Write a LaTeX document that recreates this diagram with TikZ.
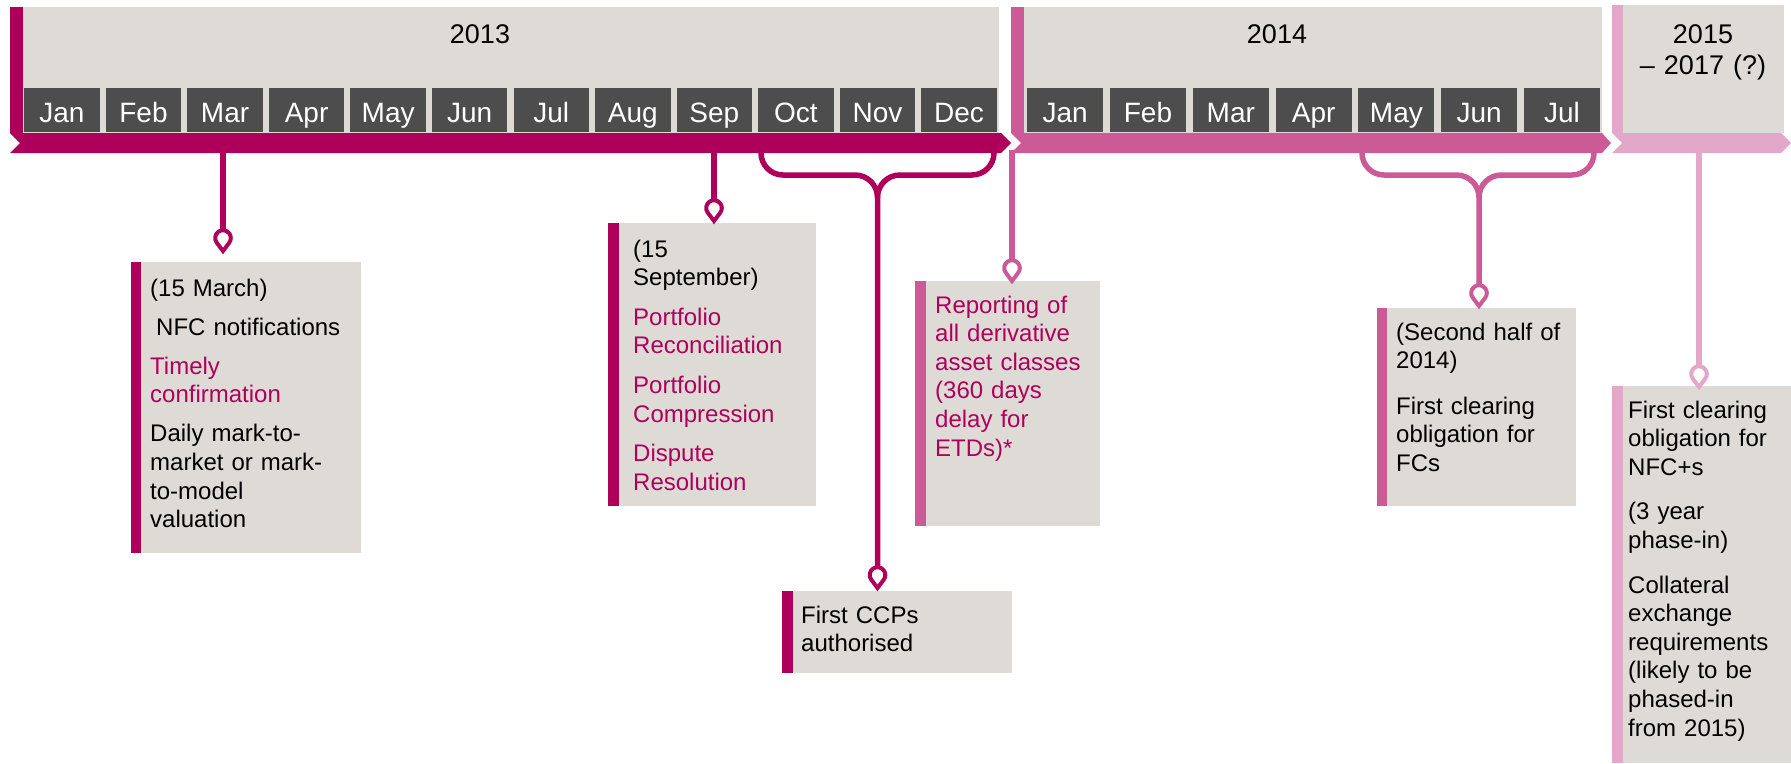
\documentclass[tikz,border=0pt]{standalone}
\usepackage{fontspec}
\setmainfont{Liberation Sans}
\definecolor{mag}{RGB}{174,0,90}
\definecolor{pnk}{RGB}{203,90,150}
\definecolor{lpk}{RGB}{227,168,201}
\definecolor{lgray}{RGB}{222,219,214}
\definecolor{dgray}{RGB}{77,77,77}
\newcommand{\pgap}[1][10.5pt]{\par\vspace{#1}}
\begin{document}
\begin{tikzpicture}[x=1pt,y=-1pt,
  month/.style={fill=dgray,text=white,inner sep=0pt,anchor=north west,minimum width=75.5pt,minimum height=44pt,text height=24pt,text depth=0pt,font=\fontsize{28}{32}\selectfont},
  yr/.style={font=\fontsize{27}{31}\selectfont,inner sep=0pt,anchor=base,text width=200pt,align=center},
  box/.style={fill=lgray,inner sep=0pt,anchor=north west},
  txt/.style={inner sep=0pt,anchor=base west,align=left,font=\fontsize{24}{28.6}\selectfont},
  conn/.style={line width=5.5pt},
  pin/.pic={\draw[line width=4pt,fill=white,pic actions] (0,13) -- (143.1:7.8) arc[start angle=143.1,end angle=396.9,radius=7.8] -- cycle;}
]
\useasboundingbox (0,0) rectangle (1791,763);
\fill[white] (0,0) rectangle (1791,763);

% headers
\fill[lgray] (23,7) rectangle (999,133);
\fill[lgray] (1024,7) rectangle (1602,133);
\fill[lgray] (1623,5) rectangle (1784,133);
\fill[mag] (10,7) rectangle (23,133);
\fill[pnk] (1011,7) rectangle (1024,133);
\fill[lpk] (1612,5) rectangle (1623,133);

\node[yr] (y13) at (480,43) {2013};
\node[yr] (y14) at (1277,43) {2014};
\node[yr,text width=160pt] (y15) at (1703,43) {2015\\– 2017 (?)};

\foreach \m [count=\i from 0] in {Jan,Feb,Mar,Apr,May,Jun,Jul,Aug,Sep,Oct,Nov,Dec}
  \node[month] (a\i) at ({24+81.55*\i},88) {\m};
\foreach \m [count=\i from 0] in {Jan,Feb,Mar,Apr,May,Jun,Jul}
  \node[month,minimum width=76pt] (b\i) at ({1027+82.8*\i},88) {\m};

% bands
\fill[mag] (10,133) -- (1001,133) -- (1011,143) -- (1001,153) -- (10,153) -- (20,143) -- cycle;
\fill[pnk] (1011,133) -- (1602,133) -- (1611,143) -- (1602,153) -- (1011,153) -- (1021,143) -- cycle;
\fill[lpk] (1612,133) -- (1781,133) -- (1791,143) -- (1781,153) -- (1612,153) -- (1622,143) -- cycle;

% boxes
\node[box,minimum width=230pt,minimum height=291pt] (b1) at (131,262) {};
\fill[mag] (b1.north west) rectangle ([xshift=10pt]b1.south west);
\node[box,minimum width=208pt,minimum height=283pt] (b2) at (608,223) {};
\fill[mag] (b2.north west) rectangle ([xshift=11pt]b2.south west);
\node[box,minimum width=230pt,minimum height=82pt] (b3) at (782,591) {};
\fill[mag] (b3.north west) rectangle ([xshift=11pt]b3.south west);
\node[box,minimum width=185pt,minimum height=245pt] (b4) at (915,281) {};
\fill[pnk] (b4.north west) rectangle ([xshift=11pt]b4.south west);
\node[box,minimum width=199pt,minimum height=198pt] (b5) at (1377,308) {};
\fill[pnk] (b5.north west) rectangle ([xshift=10pt]b5.south west);
\node[box,minimum width=179pt,minimum height=377pt] (b6) at (1612,386) {};
\fill[lpk] (b6.north west) rectangle ([xshift=11pt]b6.south west);

\node[txt,text width=205pt] (t1) at (150,296) {(15 March)\pgap
\hspace*{6pt}NFC notifications\pgap
\textcolor{mag}{Timely\\confirmation}\pgap
Daily mark-to-\\market or mark-\\to-model\\valuation};
\node[txt,text width=180pt] (t2) at (633,257) {(15\\September)\pgap[11pt]
\textcolor{mag}{Portfolio\\Reconciliation}\pgap[11pt]
\textcolor{mag}{Portfolio\\Compression}\pgap[11pt]
\textcolor{mag}{Dispute\\Resolution}};
\node[txt,text width=200pt] (t3) at (801,623) {First CCPs\\authorised};
\node[txt,text width=165pt,text=mag] (t4) at (935,313) {Reporting of\\all derivative\\asset classes\\(360 days\\delay for\\ETDs)*};
\node[txt,text width=175pt] (t5) at (1396,340) {(Second half of\\2014)\pgap[17pt]
First clearing\\obligation for\\FCs};
\node[txt,text width=160pt] (t6) at (1628,418) {First clearing\\obligation for\\NFC+s\pgap[16pt]
(3 year\\phase-in)\pgap[16pt]
Collateral\\exchange\\requirements\\(likely to be\\phased-in\\from 2015)};

% connectors
\coordinate (sA) at (223,150); \coordinate (pA) at (223,230);
\coordinate (sB) at (714,150); \coordinate (pB) at (714,200);
\coordinate (sD) at (1012,150); \coordinate (pD) at (1012,260);
\coordinate (sF) at (1699,150); \coordinate (pF) at (1699,366);
\coordinate (lC) at (761,150); \coordinate (rC) at (994,150);
\coordinate (jC) at (877.5,197.5); \coordinate (pC) at (877.5,567);
\coordinate (lE) at (1362,150); \coordinate (rE) at (1594,150);
\coordinate (jE) at (1479,197.5); \coordinate (pE) at (1479,285);

\draw[conn,mag] (sA) -- (pA);
\draw[conn,mag] (sB) -- (pB);
\draw[conn,pnk] (sD) -- (pD);
\draw[conn,lpk] (sF) -- (pF);

\draw[conn,mag] (lC) -- ++(0,3) .. controls +(0,12.1) and +(-12.1,0) .. ++(22,22) -- ++(72,0) .. controls +(12.4,0) and +(0,-12.6) .. (jC) -- (pC);
\draw[conn,mag] (rC) -- ++(0,3) .. controls +(0,12.1) and +(12.1,0) .. ++(-22,22) -- ++(-72,0) .. controls +(-12.4,0) and +(0,-12.6) .. (jC);
\draw[conn,pnk] (lE) -- ++(0,3) .. controls +(0,12.1) and +(-12.1,0) .. ++(22,22) -- ++(72.5,0) .. controls +(12.4,0) and +(0,-12.6) .. (jE) -- (pE);
\draw[conn,pnk] (rE) -- ++(0,3) .. controls +(0,12.1) and +(12.1,0) .. ++(-22,22) -- ++(-70.5,0) .. controls +(-12.4,0) and +(0,-12.6) .. (jE);

\pic[draw=mag] at (223,238) {pin};
\pic[draw=mag] at (714,208) {pin};
\pic[draw=mag] at (877.5,575) {pin};
\pic[draw=pnk] at (1012,268) {pin};
\pic[draw=pnk] at (1479,293) {pin};
\pic[draw=lpk] at (1699,374) {pin};
\end{tikzpicture}
\end{document}
